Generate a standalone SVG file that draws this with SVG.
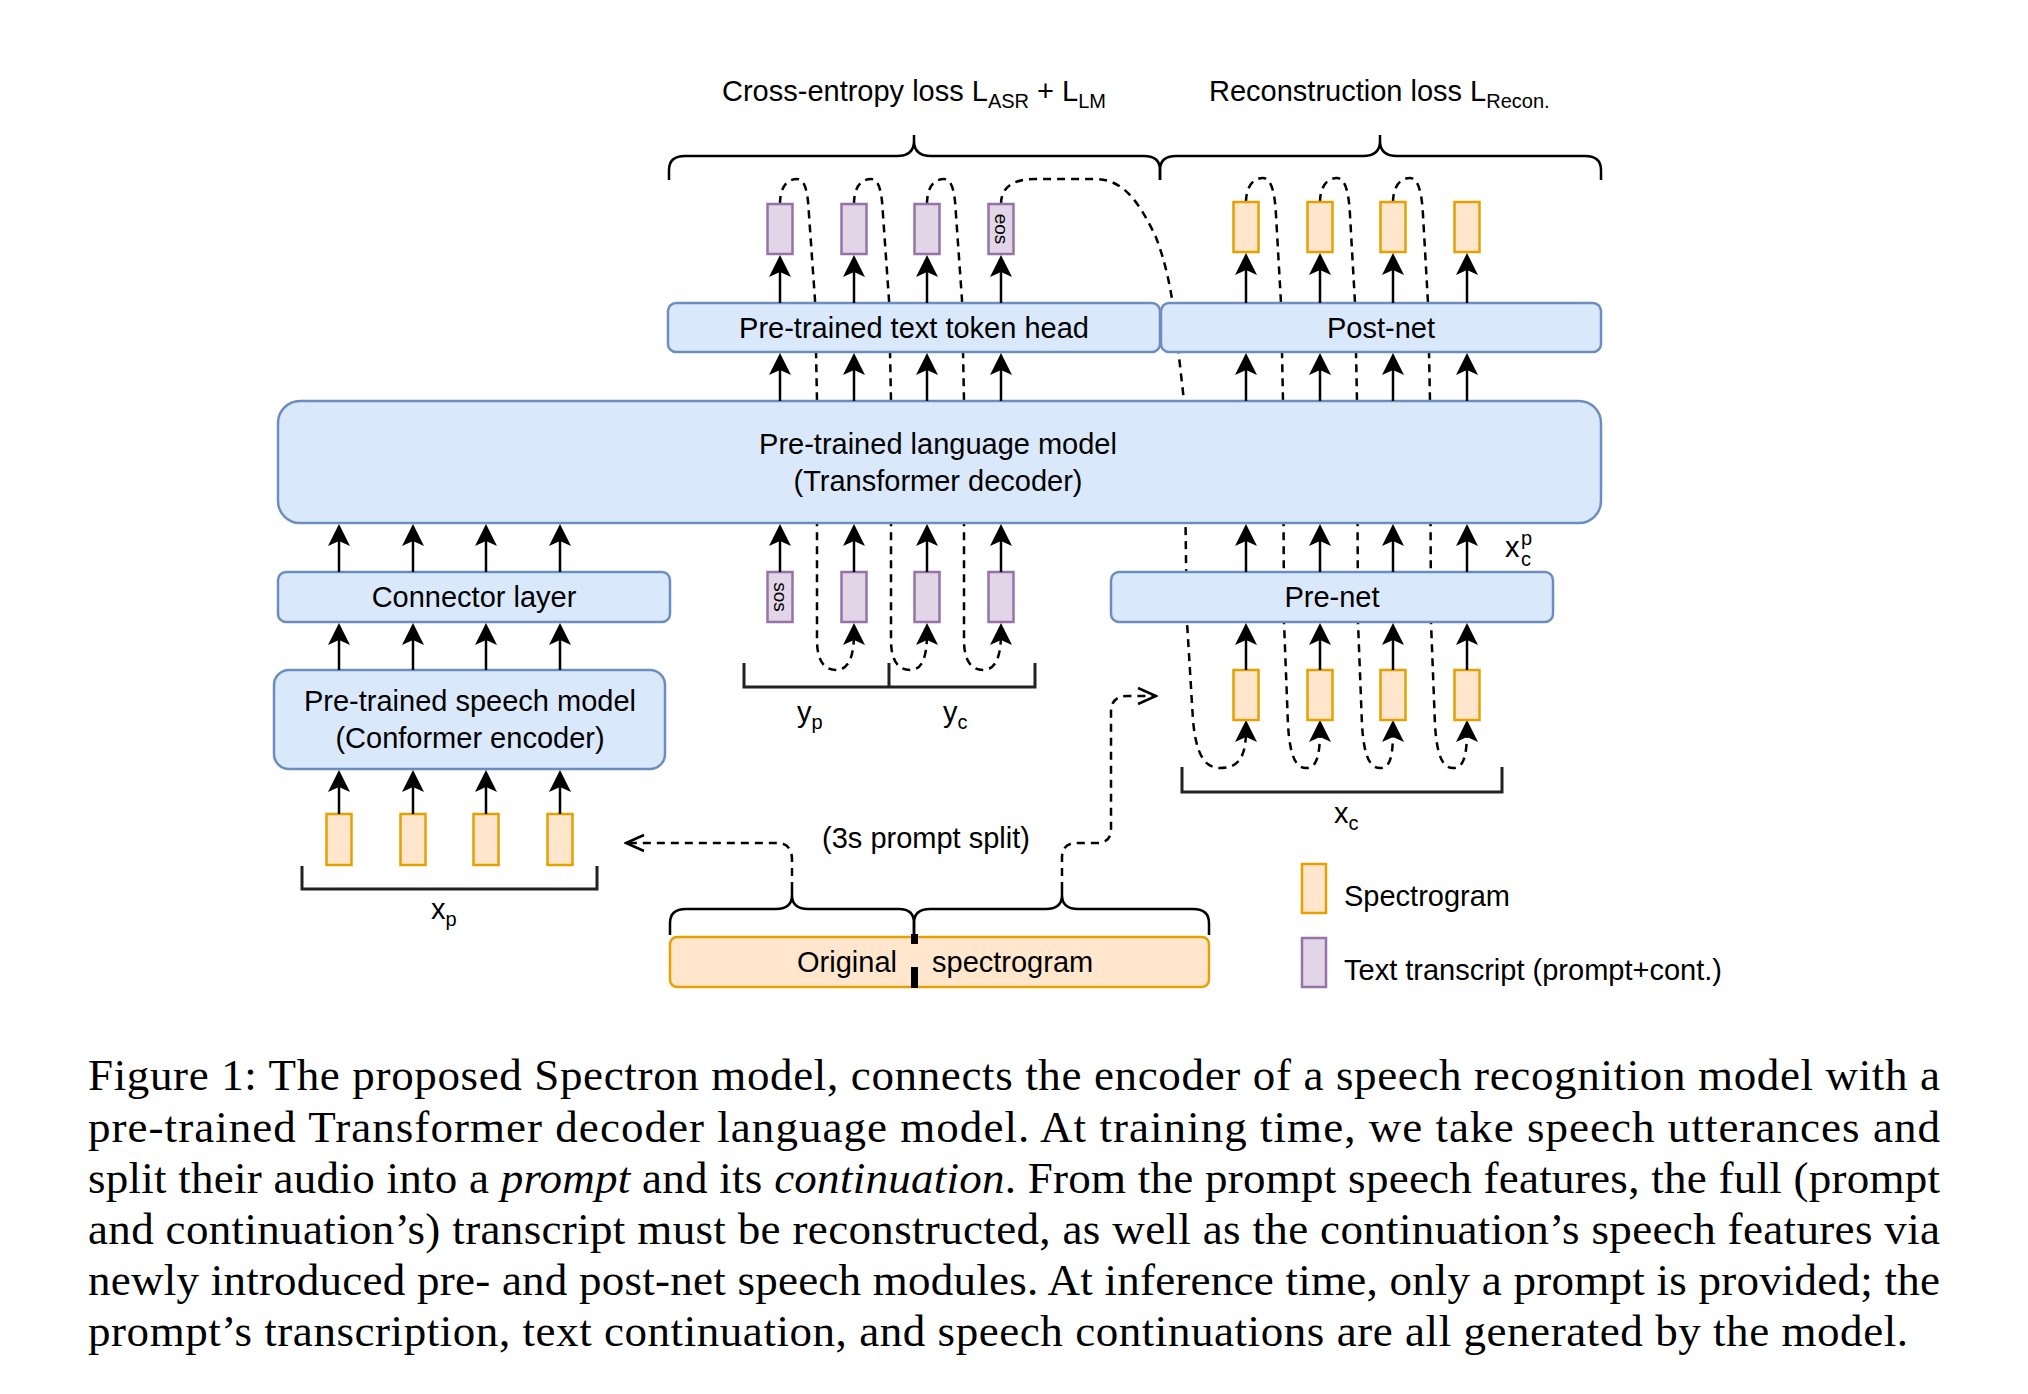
<svg xmlns="http://www.w3.org/2000/svg" width="2028" height="1394" viewBox="0 0 2028 1394">
<style>
.box{fill:#dae8fc;stroke:#6c8ebf;stroke-width:2.5}
.pur{fill:#e1d5e7;stroke:#9673a6;stroke-width:2.5}
.org{fill:#ffe6cc;stroke:#e6a000;stroke-width:2.5}
.lbl{font-family:"Liberation Sans",Arial,sans-serif;font-size:29px;fill:#000}
.sub{font-size:20px}
.rot{font-family:"Liberation Sans",Arial,sans-serif;font-size:19px;fill:#000}
.arr{stroke:#000;stroke-width:2.5;fill:none;marker-end:url(#ah)}
.dash{stroke:#000;stroke-width:2.5;fill:none;stroke-dasharray:8 6}
.dopen{stroke:#000;stroke-width:2.5;fill:none;stroke-dasharray:8 6;marker-end:url(#oa)}
.brace{stroke:#000;stroke-width:2.5;fill:none}
.brk{stroke:#222;stroke-width:3;fill:none}
.cap{font-family:"Liberation Serif","Times New Roman",serif;font-size:45px;fill:#000}
</style>
<defs>
<marker id="ah" markerUnits="userSpaceOnUse" markerWidth="22" markerHeight="22" viewBox="0 0 22 22" refX="12" refY="11" orient="auto"><path d="M22,11 L0,0 L5,11 L0,22 Z" fill="#000"/></marker>
<marker id="oa" markerUnits="userSpaceOnUse" markerWidth="22" markerHeight="20" viewBox="0 0 22 20" refX="20" refY="10" orient="auto"><path d="M2,2 L20,10 L2,18" fill="none" stroke="#000" stroke-width="2.5"/></marker>
</defs>
<rect width="2028" height="1394" fill="#fff"/>

<!-- dashed feedback connectors (under boxes) -->
<g id="connectors-dashed">
<path class="dash" d="M780,204 C780,190 785,179 797,179 C806,179 808,195 809,215 L815,300 L817,401 L817,640 C817,662 825,670 836,670 C847,670 854,660 854,633" marker-end="url(#ah)"/>
<path class="dash" d="M854,204 C854,190 859,179 871,179 C880,179 882,195 883,215 L889,300 L891,401 L891,640 C891,662 899,670 910,670 C921,670 927,660 927,633" marker-end="url(#ah)"/>
<path class="dash" d="M927,204 C927,190 932,179 944,179 C953,179 955,195 956,215 L962,300 L964,401 L964,640 C964,662 972,670 983,670 C994,670 1001,660 1001,633" marker-end="url(#ah)"/>
<path class="dash" d="M1001,204 C1001,188 1012,179 1035,179 L1095,179 C1125,179 1140,205 1155,235 C1165,260 1172,290 1176,330 L1184,401 L1186,560 L1187,622 L1193,720 C1196,755 1205,768 1220,768 C1238,768 1246,758 1246,730" marker-end="url(#ah)"/>
<path class="dash" d="M1246,202 C1246,190 1251,178 1263,178 C1272,178 1275,195 1276,215 L1281,303 L1283,401 L1284,622 L1288,725 C1290,757 1296,768 1306,768 C1316,768 1320,758 1320,730" marker-end="url(#ah)"/>
<path class="dash" d="M1320,202 C1320,190 1325,178 1337,178 C1346,178 1349,195 1350,215 L1355,303 L1357,401 L1358,622 L1362,725 C1364,757 1370,768 1380,768 C1390,768 1393,758 1393,730" marker-end="url(#ah)"/>
<path class="dash" d="M1393,202 C1393,190 1398,178 1410,178 C1419,178 1422,195 1423,215 L1428,303 L1430,401 L1431,622 L1435,725 C1437,757 1443,768 1453,768 C1463,768 1467,758 1467,730" marker-end="url(#ah)"/>
<path class="dopen" d="M792,890 L792,860 Q792,843 777,843 L626,843"/>
<path class="dopen" d="M1062,890 L1062,858 Q1062,843 1077,843 L1097,843 Q1111,843 1111,829 L1111,712 Q1111,696 1127,696 L1156,696"/>
</g>

<!-- nodes -->
<g id="lm"><rect class="box" x="278" y="401" width="1323" height="122" rx="22"/>
<text class="lbl" x="938" y="454" text-anchor="middle">Pre-trained language model</text>
<text class="lbl" x="938" y="491" text-anchor="middle">(Transformer decoder)</text></g>
<g id="text-head"><rect class="box" x="668" y="303" width="492" height="49" rx="8"/>
<text class="lbl" x="914" y="338" text-anchor="middle">Pre-trained text token head</text></g>
<g id="post-net"><rect class="box" x="1161" y="303" width="440" height="49" rx="8"/>
<text class="lbl" x="1381" y="338" text-anchor="middle">Post-net</text></g>
<g id="connector"><rect class="box" x="278" y="572" width="392" height="50" rx="8"/>
<text class="lbl" x="474" y="607" text-anchor="middle">Connector layer</text></g>
<g id="speech-model"><rect class="box" x="274" y="670" width="391" height="99" rx="15"/>
<text class="lbl" x="470" y="711" text-anchor="middle">Pre-trained speech model</text>
<text class="lbl" x="470" y="748" text-anchor="middle">(Conformer encoder)</text></g>
<g id="pre-net"><rect class="box" x="1111" y="572" width="442" height="50" rx="8"/>
<text class="lbl" x="1332" y="607" text-anchor="middle">Pre-net</text></g>

<g id="text-outputs">
<rect class="pur" x="767.5" y="204" width="25" height="50"/>
<rect class="pur" x="841.5" y="204" width="25" height="50"/>
<rect class="pur" x="914.5" y="204" width="25" height="50"/>
<rect class="pur" x="988.5" y="204" width="25" height="50"/>
<text class="rot" transform="translate(1001,229) rotate(90)" x="0" y="6" text-anchor="middle">eos</text>
</g>
<g id="speech-outputs">
<rect class="org" x="1233.5" y="202" width="25" height="50"/>
<rect class="org" x="1307.5" y="202" width="25" height="50"/>
<rect class="org" x="1380.5" y="202" width="25" height="50"/>
<rect class="org" x="1454.5" y="202" width="25" height="50"/>
</g>
<g id="text-inputs">
<rect class="pur" x="767.5" y="572" width="25" height="50"/>
<rect class="pur" x="841.5" y="572" width="25" height="50"/>
<rect class="pur" x="914.5" y="572" width="25" height="50"/>
<rect class="pur" x="988.5" y="572" width="25" height="50"/>
<text class="rot" transform="translate(780,597) rotate(90)" x="0" y="6" text-anchor="middle">sos</text>
</g>
<g id="speech-inputs-cont">
<rect class="org" x="1233.5" y="670" width="25" height="50"/>
<rect class="org" x="1307.5" y="670" width="25" height="50"/>
<rect class="org" x="1380.5" y="670" width="25" height="50"/>
<rect class="org" x="1454.5" y="670" width="25" height="50"/>
</g>
<g id="speech-inputs-prompt">
<rect class="org" x="326.5" y="814" width="25" height="51"/>
<rect class="org" x="400.5" y="814" width="25" height="51"/>
<rect class="org" x="473.5" y="814" width="25" height="51"/>
<rect class="org" x="547.5" y="814" width="25" height="51"/>
</g>
<g id="original-spectrogram">
<rect class="org" x="670" y="937" width="539" height="50" rx="7"/>
<rect x="911" y="934" width="7" height="10" fill="#000"/>
<rect x="911" y="967" width="7" height="21" fill="#000"/>
<text class="lbl" x="897" y="972" text-anchor="end">Original</text>
<text class="lbl" x="932" y="972">spectrogram</text>
</g>

<!-- solid arrows -->
<g id="connectors">
<line class="arr" x1="780" y1="401" x2="780" y2="363"/><line class="arr" x1="854" y1="401" x2="854" y2="363"/><line class="arr" x1="927" y1="401" x2="927" y2="363"/><line class="arr" x1="1001" y1="401" x2="1001" y2="363"/>
<line class="arr" x1="1246" y1="401" x2="1246" y2="363"/><line class="arr" x1="1320" y1="401" x2="1320" y2="363"/><line class="arr" x1="1393" y1="401" x2="1393" y2="363"/><line class="arr" x1="1467" y1="401" x2="1467" y2="363"/>
<line class="arr" x1="780" y1="303" x2="780" y2="265"/><line class="arr" x1="854" y1="303" x2="854" y2="265"/><line class="arr" x1="927" y1="303" x2="927" y2="265"/><line class="arr" x1="1001" y1="303" x2="1001" y2="265"/>
<line class="arr" x1="1246" y1="303" x2="1246" y2="263"/><line class="arr" x1="1320" y1="303" x2="1320" y2="263"/><line class="arr" x1="1393" y1="303" x2="1393" y2="263"/><line class="arr" x1="1467" y1="303" x2="1467" y2="263"/>
<line class="arr" x1="339" y1="572" x2="339" y2="534"/><line class="arr" x1="413" y1="572" x2="413" y2="534"/><line class="arr" x1="486" y1="572" x2="486" y2="534"/><line class="arr" x1="560" y1="572" x2="560" y2="534"/>
<line class="arr" x1="339" y1="670" x2="339" y2="633"/><line class="arr" x1="413" y1="670" x2="413" y2="633"/><line class="arr" x1="486" y1="670" x2="486" y2="633"/><line class="arr" x1="560" y1="670" x2="560" y2="633"/>
<line class="arr" x1="339" y1="814" x2="339" y2="780"/><line class="arr" x1="413" y1="814" x2="413" y2="780"/><line class="arr" x1="486" y1="814" x2="486" y2="780"/><line class="arr" x1="560" y1="814" x2="560" y2="780"/>
<line class="arr" x1="780" y1="572" x2="780" y2="534"/><line class="arr" x1="854" y1="572" x2="854" y2="534"/><line class="arr" x1="927" y1="572" x2="927" y2="534"/><line class="arr" x1="1001" y1="572" x2="1001" y2="534"/>
<line class="arr" x1="1246" y1="572" x2="1246" y2="534"/><line class="arr" x1="1320" y1="572" x2="1320" y2="534"/><line class="arr" x1="1393" y1="572" x2="1393" y2="534"/><line class="arr" x1="1467" y1="572" x2="1467" y2="534"/>
<line class="arr" x1="1246" y1="670" x2="1246" y2="633"/><line class="arr" x1="1320" y1="670" x2="1320" y2="633"/><line class="arr" x1="1393" y1="670" x2="1393" y2="633"/><line class="arr" x1="1467" y1="670" x2="1467" y2="633"/>
</g>

<!-- braces, brackets, labels -->
<g id="annotations">
<path class="brace" d="M669,180 L669,170 Q669,156 685,156 L897,156 Q914,156 914,141 L914,135 M914,141 Q914,156 931,156 L1144,156 Q1160,156 1160,170 L1160,180"/>
<path class="brace" d="M1160,180 L1160,170 Q1160,156 1176,156 L1363,156 Q1380,156 1380,141 L1380,135 M1380,141 Q1380,156 1397,156 L1585,156 Q1601,156 1601,170 L1601,180"/>
<path class="brace" d="M670,935 L670,923 Q670,909 686,909 L776,909 Q792,909 792,895 L792,890 M792,895 Q792,909 808,909 L899,909 Q914,909 914,923 L914,935"/>
<path class="brace" d="M914,935 L914,923 Q914,909 930,909 L1046,909 Q1062,909 1062,895 L1062,890 M1062,895 Q1062,909 1078,909 L1193,909 Q1209,909 1209,923 L1209,935"/>
<path class="brk" d="M302,866 L302,889 L597,889 L597,866"/>
<path class="brk" d="M744,663 L744,687 L1035,687 L1035,663 M889,663 L889,687"/>
<path class="brk" d="M1182,767 L1182,792 L1502,792 L1502,767"/>
<text class="lbl" x="722" y="101">Cross-entropy loss L<tspan class="sub" dy="7">ASR</tspan><tspan dy="-7"> + L</tspan><tspan class="sub" dy="7">LM</tspan></text>
<text class="lbl" x="1209" y="101">Reconstruction loss L<tspan class="sub" dy="7">Recon.</tspan></text>
<text class="lbl" x="926" y="848" text-anchor="middle">(3s prompt split)</text>
<text class="lbl" x="431" y="919">x<tspan class="sub" dy="7">p</tspan></text>
<text class="lbl" x="797" y="722">y<tspan class="sub" dy="7">p</tspan></text>
<text class="lbl" x="943" y="722">y<tspan class="sub" dy="7">c</tspan></text>
<text class="lbl" x="1334" y="823">x<tspan class="sub" dy="7">c</tspan></text>
<text class="lbl" x="1505" y="557">x</text>
<text class="lbl sub" x="1521" y="545">p</text>
<text class="lbl sub" x="1521" y="566">c</text>
</g>

<g id="legend">
<rect class="org" x="1302" y="864" width="24" height="49"/>
<text class="lbl" x="1344" y="906">Spectrogram</text>
<rect class="pur" x="1302" y="938" width="24" height="49"/>
<text class="lbl" x="1344" y="980">Text transcript (prompt+cont.)</text>
</g>

<g id="caption">
<text class="cap" x="88" y="1090" textLength="1852" lengthAdjust="spacing">Figure 1: The proposed Spectron model, connects the encoder of a speech recognition model with a</text>
<text class="cap" x="88" y="1142" textLength="1852" lengthAdjust="spacing">pre-trained Transformer decoder language model. At training time, we take speech utterances and</text>
<text class="cap" x="88" y="1193" textLength="1852" lengthAdjust="spacing">split their audio into a <tspan font-style="italic">prompt</tspan> and its <tspan font-style="italic">continuation</tspan>. From the prompt speech features, the full (prompt</text>
<text class="cap" x="88" y="1244" textLength="1852" lengthAdjust="spacing">and continuation’s) transcript must be reconstructed, as well as the continuation’s speech features via</text>
<text class="cap" x="88" y="1295" textLength="1852" lengthAdjust="spacing">newly introduced pre- and post-net speech modules. At inference time, only a prompt is provided; the</text>
<text class="cap" x="88" y="1346" textLength="1820" lengthAdjust="spacing">prompt’s transcription, text continuation, and speech continuations are all generated by the model.</text>
</g>
</svg>
